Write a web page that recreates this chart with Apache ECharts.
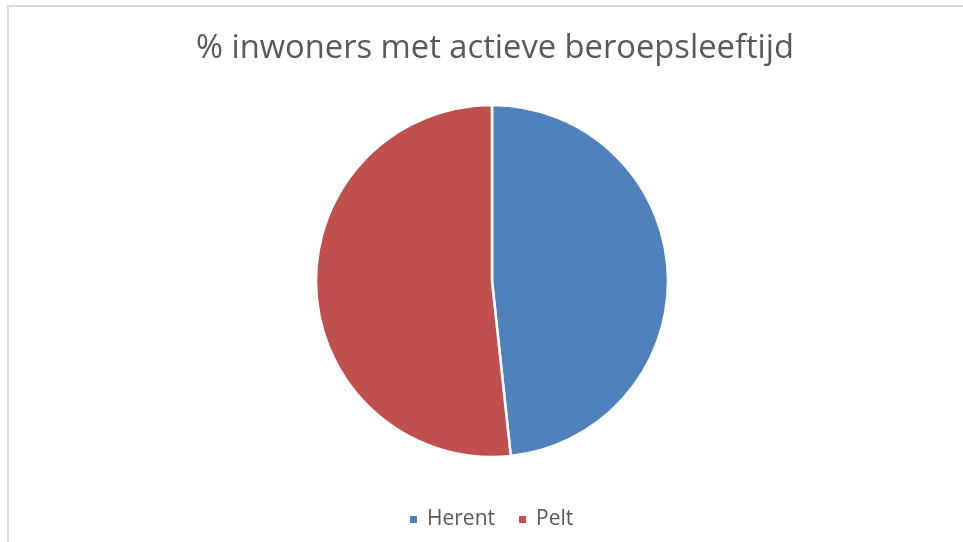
<!DOCTYPE html>
<html>
<head>
<meta charset="utf-8">
<script src="https://cdn.jsdelivr.net/npm/echarts@6/dist/echarts.min.js"></script>
<style>
  html, body { margin: 0; padding: 0; background: #fff; }
  #frame { position: absolute; left: 7px; top: 5px; width: 960px; height: 540px;
           border-left: 2px solid #d9d9d9; border-top: 2px solid #d9d9d9; }
  #chart { position: absolute; left: 0; top: 0; width: 963px; height: 542px; }
</style>
</head>
<body>
<div id="frame"></div>
<div id="chart"></div>
<script>
const categories = ["Herent", "Pelt"];
const shares = [48.3, 51.7];
const colors = ["#4F81BD", "#C0504D"];

window.addEventListener("DOMContentLoaded", () => {
  const chart = echarts.init(document.getElementById("chart"), null, { renderer: "canvas" });

  const data = categories.map((name, i) => ({ name, value: shares[i] }));

  chart.setOption({
    backgroundColor: "transparent",
    color: colors,
    title: {
      text: "% inwoners met actieve beroepsleeftijd",
      left: 490,
      textAlign: "center",
      top: 27,
      textStyle: {
        fontFamily: "Open Sans",
        fontSize: 32.7,
        fontWeight: "normal",
        color: "#595959",
      },
    },
    legend: {
      data: categories,
      left: 403,
      bottom: 7,
      icon: "rect",
      itemWidth: 9,
      itemHeight: 9,
      itemGap: 22,
      textStyle: { fontFamily: "Open Sans", fontSize: 21, color: "#595959", padding: [0, 0, 0, 4] },
    },
    series: [
      {
        type: "pie",
        radius: 176,
        center: [492, 281],
        startAngle: 90,
        clockwise: true,
        data,
        label: { show: false },
        labelLine: { show: false },
        itemStyle: { borderColor: "#fff", borderWidth: 2.5 },
        emphasis: { scale: false },
        animation: false,
      },
    ],
  });
});
</script>
</body>
</html>
